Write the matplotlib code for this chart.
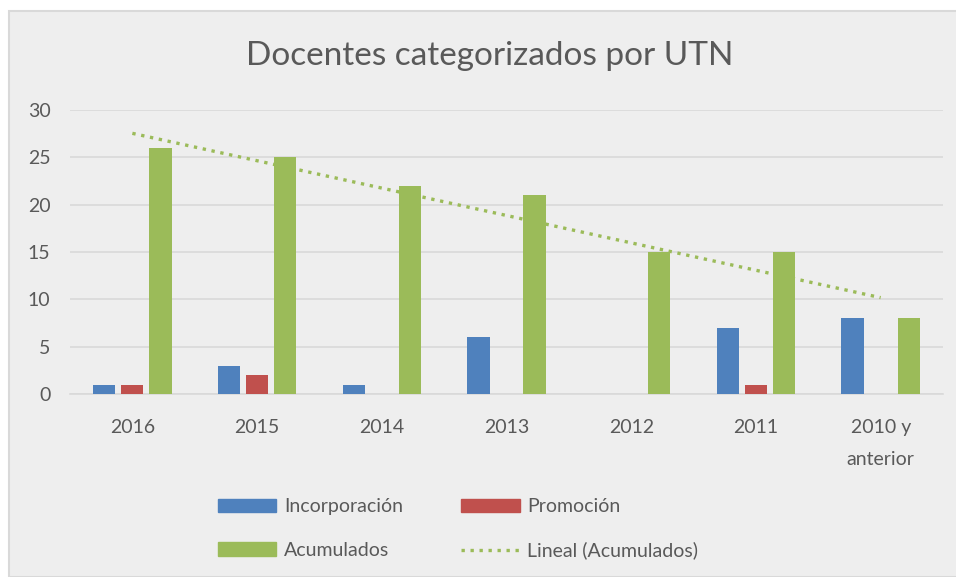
import numpy as np
import matplotlib
matplotlib.use("Agg")
import matplotlib.pyplot as plt
from matplotlib.patches import Rectangle
from matplotlib.lines import Line2D

plt.rcParams['font.family'] = ['Lato', 'DejaVu Sans']

# --- datos ---
categorias = ["2016", "2015", "2014", "2013", "2012", "2011", "2010 y\nanterior"]
incorporacion = [1, 3, 1, 6, 0, 7, 8]
promocion = [1, 2, 0, 0, 0, 1, 0]
acumulados = [26, 25, 22, 21, 15, 15, 8]

AZUL = "#4F81BD"
ROJO = "#C0504D"
VERDE = "#9BBB59"
GRIS_TXT = "#595959"
GRIS_LIN = "#D9D9D9"

fig = plt.figure(figsize=(9.56, 5.77), dpi=100, facecolor="white")

# marco del grafico (estilo Excel)
fig.patches.append(Rectangle((9 / 956, 0), 1.0, 1 - 11 / 577, transform=fig.transFigure,
                             facecolor="#EEEEEE", edgecolor=GRIS_LIN, linewidth=1.5, zorder=-5))

ax = fig.add_axes([70 / 956, 1 - 394 / 577, (943 - 70) / 956, (394 - 110) / 577])
ax.set_facecolor("none")

x = np.arange(len(categorias))
ancho = 0.178
paso = 0.225

ax.bar(x - paso, incorporacion, ancho, color=AZUL, label="Incorporación", zorder=3)
ax.bar(x, promocion, ancho, color=ROJO, label="Promoción", zorder=3)
ax.bar(x + paso, acumulados, ancho, color=VERDE, label="Acumulados", zorder=3)

# --- linea de tendencia lineal ---
m, b = np.polyfit(x + 1, acumulados, 1)
tend = m * (x + 1) + b
ax.plot(x, tend, color=VERDE, lw=2.4, linestyle=(0, (1, 1.7)), zorder=4)

ax.set_xlim(-0.5, len(categorias) - 0.5)
ax.set_ylim(0, 30)
ax.set_yticks(range(0, 31, 5))
ax.set_xticks(x)
ax.set_xticklabels(categorias, linespacing=2.1)
ax.tick_params(length=0, labelsize=14, colors=GRIS_TXT)
ax.tick_params(axis="x", pad=18)
ax.tick_params(axis="y", pad=14)
ax.yaxis.grid(True, color=GRIS_LIN, lw=1.2, zorder=0)
for s in ["top", "right", "left"]:
    ax.spines[s].set_visible(False)
ax.spines["bottom"].set_color(GRIS_LIN)
ax.spines["bottom"].set_linewidth(1.2)

fig.text(490 / 956, 1 - 56 / 577, "Docentes categorizados por UTN", ha="center", va="center",
         fontsize=24, color=GRIS_TXT)

# orden por columnas para que la fila 1 sea Incorporación / Promoción
handles = [
    Rectangle((0, 0), 1, 1, color=AZUL),
    Rectangle((0, 0), 1, 1, color=VERDE),
    Rectangle((0, 0), 1, 1, color=ROJO),
    Line2D([0], [0], color=VERDE, lw=2.4, linestyle=(0, (1, 1.7))),
]
labels = ["Incorporación", "Acumulados", "Promoción", "Lineal (Acumulados)"]
fig.legend(handles, labels, ncol=2, loc="center", bbox_to_anchor=(458 / 956, 1 - 529 / 577),
           frameon=False, fontsize=14, labelcolor=GRIS_TXT, handlelength=3.0, handleheight=0.7,
           columnspacing=3.0, labelspacing=1.35, handletextpad=0.4)

fig.savefig("out.png", dpi=100, facecolor="white")
